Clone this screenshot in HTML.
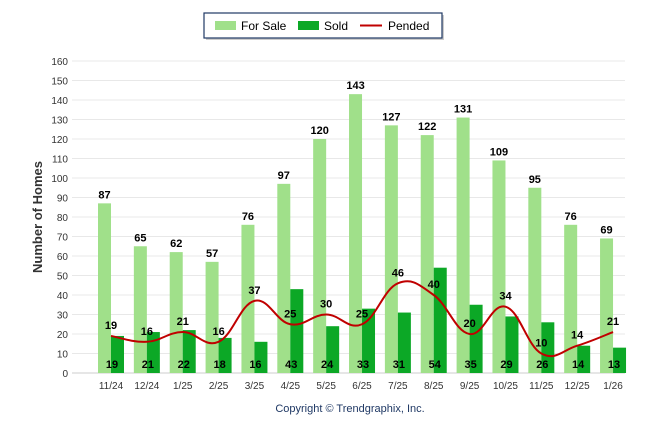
<!DOCTYPE html>
<html><head><meta charset="utf-8"><style>
body{margin:0;background:#fff;width:646px;height:434px;overflow:hidden;font-family:"Liberation Sans",sans-serif}
</style></head><body>
<svg id="chart" width="646" height="434" xmlns="http://www.w3.org/2000/svg" font-family="Liberation Sans, sans-serif">
<g>
<rect x="206" y="15" width="238" height="25" fill="#999" opacity="0.5"/>
<rect x="204" y="13" width="238" height="25" fill="#fff" stroke="#1f3864" stroke-width="1.2"/>
<rect x="215" y="21" width="21" height="9" fill="#a0e08a"/>
<text x="241" y="30" font-size="12" fill="#000">For Sale</text>
<rect x="298" y="21" width="21" height="9" fill="#0ca826"/>
<text x="324" y="30" font-size="12" fill="#000">Sold</text>
<line x1="360" y1="25.5" x2="382" y2="25.5" stroke="#c00000" stroke-width="2"/>
<text x="388" y="30" font-size="12" fill="#000">Pended</text>
</g>
<text transform="translate(42,217) rotate(-90)" text-anchor="middle" font-size="13" font-weight="bold" fill="#333">Number of Homes</text>
<text x="350" y="412" text-anchor="middle" font-size="11" fill="#1f3864">Copyright © Trendgraphix, Inc.</text>
<g id="grid"></g><g id="bars"></g><g id="line"></g><g id="labels"></g>
</svg>
<script>
const categories=["11/24","12/24","1/25","2/25","3/25","4/25","5/25","6/25","7/25","8/25","9/25","10/25","11/25","12/25","1/26"];
const forSale=[87,65,62,57,76,97,120,143,127,122,131,109,95,76,69];
const sold=[19,21,22,18,16,43,24,33,31,54,35,29,26,14,13];
const pended=[19,16,21,16,37,25,30,25,46,40,20,34,10,14,21];
const yTicks=[0,10,20,30,40,50,60,70,80,90,100,110,120,130,140,150,160];
const NS="http://www.w3.org/2000/svg";
const y=v=>373-v*(312/160);
const x=i=>111+i*35.86;
function mk(tag,attrs,parent){const e=document.createElementNS(NS,tag);for(const k in attrs)e.setAttribute(k,attrs[k]);document.getElementById(parent).appendChild(e);return e;}
yTicks.forEach(t=>{
 const l=mk('line',{x1:72,x2:625,y1:y(t),y2:y(t),stroke:t===0?'#ccc':'#e8e8e8','stroke-width':1},'grid');
 
 
 const tx=mk('text',{x:68,y:y(t)+4,'text-anchor':'end','font-size':10,fill:'#333'},'grid');tx.textContent=t;
 
 
});
categories.forEach((c,i)=>{
 const tx=mk('text',{x:x(i),y:389,'text-anchor':'middle','font-size':10,fill:'#333'},'grid');tx.textContent=c;
 
 
 const b1=mk('rect',{x:x(i)-13,y:y(forSale[i]),width:13,height:373-y(forSale[i]),fill:'#a0e08a'},'bars');
 
 
 const b2=mk('rect',{x:x(i),y:y(sold[i]),width:13,height:373-y(sold[i]),fill:'#0ca826'},'bars');
 
 
 const t1=mk('text',{x:x(i)-6.5,y:y(forSale[i])-5,'text-anchor':'middle','font-size':11,'font-weight':'bold',fill:'#000'},'labels');t1.textContent=forSale[i];
 
 
 const t2=mk('text',{x:x(i)+1,y:368,'text-anchor':'middle','font-size':11,'font-weight':'bold',fill:'#000'},'labels');t2.textContent=sold[i];
 
 
 const t3=mk('text',{x:x(i),y:y(pended[i])-7,'text-anchor':'middle','font-size':11,'font-weight':'bold',fill:'#000'},'labels');t3.textContent=pended[i];
 
 
});
const pts=pended.map((v,i)=>[x(i),y(v)]);
let d=`M${pts[0][0]},${pts[0][1]}`;
for(let i=0;i<pts.length-1;i++){
 const p0=pts[Math.max(0,i-1)],p1=pts[i],p2=pts[i+1],p3=pts[Math.min(pts.length-1,i+2)];
 const k=0.2;
 d+=` C${p1[0]+(p2[0]-p0[0])*k},${p1[1]+(p2[1]-p0[1])*k} ${p2[0]-(p3[0]-p1[0])*k},${p2[1]-(p3[1]-p1[1])*k} ${p2[0]},${p2[1]}`;
}
const path=mk('path',{d:d,fill:'none',stroke:'#c00000','stroke-width':2},'line');


</script>
</body></html>
